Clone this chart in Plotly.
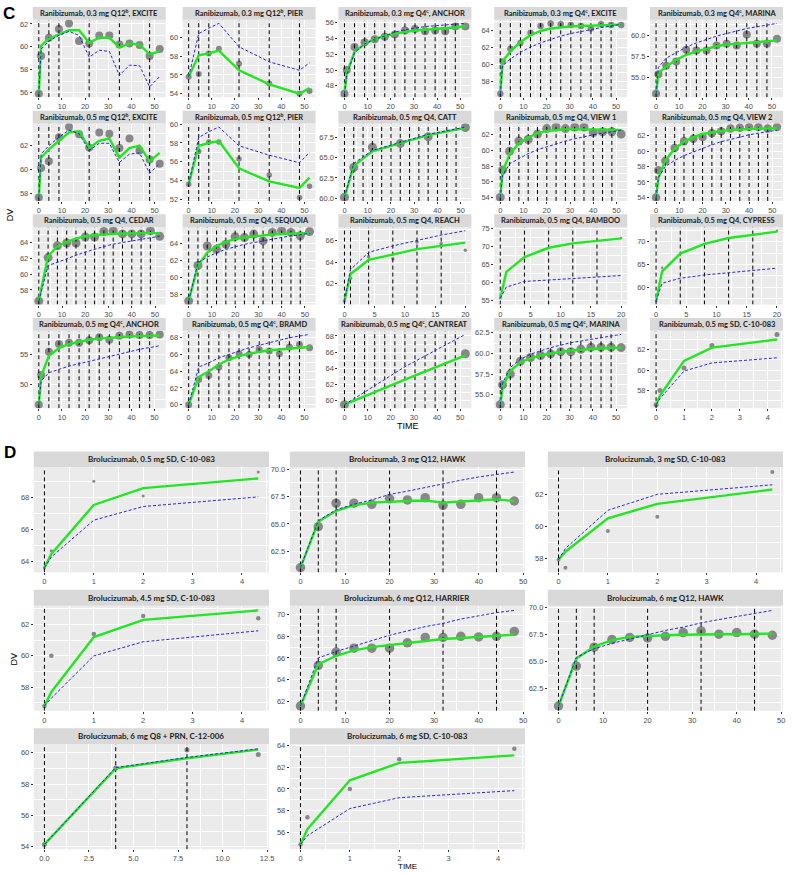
import plotly.graph_objects as go

WIDTH = 793
HEIGHT = 874

# visit times (weeks)
t_month = [0, 1, 4.35, 8.7, 13.05, 17.4, 21.75, 26.1, 30.45, 34.8, 39.15, 43.5, 47.85, 52.2]
t_pier = [0, 4.35, 8.7, 13.05, 21.75, 34.8, 47.85, 52.2]
t_bramd = [0, 4.35, 8.7, 13.05, 17.4, 21.75, 26.1, 30.45, 34.8, 39.15, 43.5, 47.85, 52.2]
t_catt = [0, 4, 12, 24, 36, 52]
t_view = [0, 1, 4, 8, 12, 16, 20, 24, 28, 32, 36, 40, 44, 48, 52]
t_4wk = [0, 4, 8, 12, 16, 20, 24, 28, 32, 36, 40, 44, 48, 52]
t_short = [0, 1, 4, 8, 12, 16, 20]
t_cantreat = [0, 26.1, 52.2]
t_sd = [0, 0.14, 1, 2, 4.33]
t_hawk = [0, 4, 8, 12, 16, 20, 24, 28, 32, 36, 40, 44, 48]
t_prn = [0, 4, 8, 12]

# dosing times (weeks)
dose_q12 = [0, 4.35, 8.7, 21.75, 34.8, 47.85]
dose_monthly = [0, 4.35, 8.7, 13.05, 17.4, 21.75, 26.1, 30.45, 34.8, 39.15, 43.5, 47.85]
dose_4wk = [0, 4, 8, 12, 16, 20, 24, 28, 32, 36, 40, 44, 48]
dose_reach = [0, 1, 4, 8, 12, 16]
dose_short = [0, 4, 8, 12, 16]
dose_sd = [0]
dose_hawk = [0, 4, 8, 20, 32, 44]
dose_prn = [0, 4, 8]

# axis ticks
xt_52 = [0, 10, 20, 30, 40, 50]
xt_20 = [0, 5, 10, 15, 20]
xt_sd = [0, 1, 2, 3, 4]
xt_12 = [0, 2.5, 5, 7.5, 10, 12.5]

# ---- panel C: ranibizumab ----
excite_q12_03_obs = [55.9, 59.2, 60.8, 61.55, 62.05, 60.5, 60.3, 61.0, 61.0, 60.2, 60.3, 60.15, 59.2, 59.8]
excite_q12_03_fit = [55.9, 60.1, 60.7, 61.1, 61.45, 61.45, 60.35, 60.8, 60.8, 59.95, 60.3, 60.2, 59.35, 59.6]
excite_q12_03_pred = [55.9, 59.8, 60.5, 61.0, 61.35, 61.0, 59.1, 59.7, 59.6, 57.5, 58.4, 58.35, 56.5, 57.4]

pier_03_obs = [55.8, 56.1, 58.3, 58.8, 57.2, 55.1, 54.0, 54.3]
pier_03_fit = [55.8, 58.1, 58.3, 58.6, 56.5, 55.0, 54.0, 54.6]
pier_03_pred = [55.8, 60.4, 61.0, 61.5, 59.0, 57.4, 56.5, 57.3]

anchor_03_obs = [47.0, 50.0, 52.9, 53.5, 53.9, 54.2, 54.5, 55.0, 55.2, 54.9, 55.0, 54.9, 55.5, 55.5]
anchor_03_fit = [47.0, 49.6, 52.3, 53.3, 53.9, 54.3, 54.6, 54.8, 55.0, 55.1, 55.2, 55.3, 55.4, 55.5]
anchor_03_pred = [47.0, 49.4, 52.2, 53.3, 53.9, 54.3, 54.8, 55.1, 55.3, 55.5, 55.6, 55.7, 55.8, 55.9]

excite_q4_03_obs = [56.5, 60.3, 61.8, 62.5, 63.7, 64.5, 64.8, 64.7, 64.6, 64.5, 64.2, 64.7, 64.6, 64.6]
excite_q4_03_fit = [56.5, 60.3, 61.5, 62.6, 63.4, 63.9, 64.2, 64.35, 64.45, 64.5, 64.55, 64.6, 64.6, 64.65]
excite_q4_03_pred = [56.5, 59.8, 60.6, 61.4, 62.0, 62.5, 62.9, 63.3, 63.6, 63.85, 64.1, 64.3, 64.5, 64.7]

marina_03_obs = [53.1, 55.4, 56.4, 56.9, 58.3, 58.2, 58.2, 58.8, 59.0, 58.8, 60.1, 59.0, 59.0, 59.6]
marina_03_fit = [53.1, 55.5, 56.3, 57.1, 57.7, 58.1, 58.4, 58.7, 58.9, 59.0, 59.1, 59.2, 59.3, 59.4]
marina_03_pred = [53.1, 56.2, 57.3, 58.0, 58.6, 59.1, 59.5, 59.9, 60.2, 60.5, 60.8, 61.0, 61.2, 61.4]

excite_q12_05_obs = [57.7, 60.15, 60.7, 62.7, 63.55, 62.95, 61.85, 63.1, 63.0, 61.8, 62.6, 61.6, 60.85, 60.5]
excite_q12_05_fit = [57.7, 61.0, 61.7, 62.4, 63.1, 63.2, 61.8, 62.4, 62.6, 61.0, 61.8, 62.0, 60.7, 61.4]
excite_q12_05_pred = [57.7, 61.3, 62.0, 62.7, 63.3, 63.0, 61.6, 62.2, 62.2, 60.6, 61.3, 61.4, 59.7, 60.5]

pier_05_obs = [53.6, 57.1, 58.1, 58.1, 56.3, 54.6, 52.2, 53.4]
pier_05_fit = [53.6, 57.7, 58.0, 58.2, 55.3, 53.9, 53.2, 54.3]
pier_05_pred = [53.6, 58.6, 59.2, 59.7, 57.7, 56.7, 55.9, 57.0]

catt_obs = [60.1, 63.8, 66.3, 66.75, 67.6, 68.75]
catt_fit = [60.1, 64.0, 65.8, 66.8, 67.8, 68.7]
catt_pred = [60.1, 64.3, 65.9, 66.9, 67.9, 68.8]

view1_obs = [54.0, 57.5, 59.9, 61.2, 61.4, 62.1, 62.8, 63.0, 62.8, 63.0, 63.0, 62.3, 62.4, 62.4, 62.1]
view1_fit = [54.0, 57.3, 59.5, 60.9, 61.7, 62.2, 62.5, 62.6, 62.7, 62.7, 62.7, 62.7, 62.7, 62.65, 62.6]
view1_pred = [54.0, 56.8, 58.3, 59.0, 59.6, 60.1, 60.5, 60.9, 61.2, 61.5, 61.8, 62.0, 62.2, 62.4, 62.6]

view2_obs = [54.0, 57.5, 58.75, 60.4, 61.25, 61.6, 61.8, 62.3, 62.55, 62.9, 63.0, 63.1, 63.1, 62.9, 63.1]
view2_fit = [54.0, 56.5, 58.8, 60.3, 61.2, 61.8, 62.2, 62.4, 62.6, 62.7, 62.8, 62.85, 62.9, 62.9, 62.95]
view2_pred = [54.0, 56.6, 58.0, 58.8, 59.4, 59.9, 60.4, 60.8, 61.2, 61.5, 61.8, 62.1, 62.3, 62.5, 62.7]

cedar_obs = [56.6, 62.1, 63.6, 63.95, 63.95, 64.7, 64.7, 65.4, 65.5, 65.1, 65.1, 65.1, 65.5, 64.8]
cedar_fit = [56.6, 62.3, 63.5, 64.1, 64.5, 64.8, 64.95, 65.05, 65.1, 65.15, 65.2, 65.2, 65.2, 65.2]
cedar_pred = [56.6, 61.1, 61.5, 62.0, 62.4, 62.8, 63.2, 63.5, 63.8, 64.0, 64.2, 64.4, 64.6, 64.8]

sequoia_obs = [57.2, 61.4, 63.7, 63.3, 63.9, 64.8, 64.7, 65.1, 64.3, 65.3, 65.5, 65.3, 64.9, 65.4]
sequoia_fit = [57.2, 61.4, 62.9, 63.7, 64.2, 64.5, 64.7, 64.85, 64.95, 65.05, 65.1, 65.15, 65.2, 65.25]
sequoia_pred = [57.2, 61.7, 62.4, 62.9, 63.3, 63.6, 63.9, 64.1, 64.3, 64.5, 64.7, 64.9, 65.0, 65.2]

reach_obs = [60.4, 62.5, 64.5, 64.3, 65.85, 65.7, 65.1]
reach_fit = [60.4, 62.9, 64.2, 64.7, 65.2, 65.5, 65.8]
reach_pred = [60.4, 63.3, 64.9, 65.5, 66.0, 66.5, 66.9]

bamboo_obs = [55.6, None, None, None, None, None, 72.3]
bamboo_fit = [55.6, 62.9, 67.0, 69.6, 70.8, 71.6, 72.2]
bamboo_pred = [55.6, 58.7, 60.25, 60.7, 61.15, 61.6, 61.9]

cypress_obs = [57.0, 64.3, None, None, None, None, 72.4]
cypress_fit = [57.0, 63.5, 67.4, 69.5, 70.8, 71.5, 72.2]
cypress_pred = [57.0, 60.9, 62.0, 62.7, 63.2, 63.7, 64.2]

anchor_05_obs = [46.55, 51.5, 55.4, 56.7, 56.9, 56.9, 57.3, 57.8, 57.4, 58.05, 58.3, 58.2, 58.2, 58.3]
anchor_05_fit = [46.6, 51.3, 54.7, 56.0, 56.7, 57.1, 57.4, 57.6, 57.75, 57.85, 57.95, 58.0, 58.05, 58.1]
anchor_05_pred = [46.6, 50.5, 51.9, 52.5, 53.0, 53.4, 53.8, 54.3, 54.7, 55.1, 55.5, 55.8, 56.1, 56.4]

bramd_obs = [60.0, 63.0, 63.5, 64.5, 65.6, 66.1, 66.0, 66.6, 66.4, 66.1, 66.9, 67.2, 66.8]
bramd_fit = [60.0, 63.3, 64.0, 64.8, 65.4, 65.8, 66.1, 66.3, 66.5, 66.6, 66.7, 66.8, 66.9]
bramd_pred = [60.0, 64.5, 65.0, 65.6, 66.0, 66.4, 66.8, 67.1, 67.4, 67.7, 68.0, 68.2, 68.4]

cantreat_obs = [59.5, None, 65.8]
cantreat_fit = [59.5, 62.6, 65.6]
cantreat_pred = [59.5, 64.2, 68.2]

marina_05_obs = [53.8, 56.2, 57.5, 59.05, 59.5, 59.75, 59.95, 60.2, 60.2, 60.5, 60.75, 60.75, 60.75, 60.7]
marina_05_fit = [53.8, 55.9, 57.9, 58.9, 59.4, 59.75, 60.0, 60.2, 60.35, 60.45, 60.55, 60.6, 60.65, 60.7]
marina_05_pred = [53.8, 56.4, 58.3, 59.3, 59.9, 60.3, 60.7, 61.0, 61.3, 61.5, 61.7, 61.9, 62.1, 62.3]

rani_sd_obs = [56.6, 58.0, 60.2, 62.4, 63.5]
rani_sd_fit = [56.6, 57.5, 60.9, 62.2, 63.0]
rani_sd_pred = [56.6, 57.2, 59.9, 60.7, 61.2]

# ---- panel D: brolucizumab ----
bro05_sd_obs = [63.64, 64.7, 69.03, 68.1, 69.6]
bro05_sd_fit = [63.64, 64.5, 67.55, 68.6, 69.2]
bro05_sd_pred = [63.64, 64.3, 66.6, 67.45, 68.05]

bro3_hawk_obs = [61.0, 64.75, 66.9, 66.9, 66.8, 67.3, 67.2, 67.4, 66.7, 66.8, 67.4, 67.4, 67.1]
bro3_hawk_fit = [61.0, 65.2, 66.2, 66.7, 66.95, 67.05, 67.1, 67.15, 66.95, 67.05, 67.15, 67.25, 67.1]
bro3_hawk_pred = [61.0, 65.3, 66.3, 66.8, 67.2, 67.7, 68.0, 68.35, 68.7, 69.0, 69.3, 69.55, 69.75]

bro3_sd_obs = [57.9, 57.4, 59.7, 60.6, 63.4]
bro3_sd_fit = [57.9, 58.4, 60.5, 61.4, 62.3]
bro3_sd_pred = [57.9, 58.6, 61.0, 62.0, 62.6]

bro45_sd_obs = [56.8, 60.0, 61.4, 62.55, 62.4]
bro45_sd_fit = [56.8, 57.7, 61.2, 62.3, 62.9]
bro45_sd_pred = [56.8, 57.3, 60.0, 60.9, 61.6]

bro6_harrier_obs = [61.55, 65.3, 66.55, 66.9, 66.9, 66.9, 67.4, 67.9, 67.9, 68.0, 67.95, 68.0, 68.45]
bro6_harrier_fit = [61.55, 65.4, 66.2, 66.7, 67.0, 67.2, 67.4, 67.6, 67.75, 67.85, 67.95, 68.05, 68.15]
bro6_harrier_pred = [61.55, 66.0, 66.6, 67.1, 67.6, 68.1, 68.5, 68.9, 69.2, 69.6, 69.9, 70.2, 70.4]

bro6_hawk_obs = [60.9, 64.6, 66.35, 67.05, 67.25, 67.2, 67.35, 67.7, 67.85, 67.55, 67.7, 67.55, 67.45]
bro6_hawk_fit = [60.9, 65.3, 66.4, 67.0, 67.3, 67.4, 67.45, 67.5, 67.55, 67.55, 67.55, 67.6, 67.6]
bro6_hawk_pred = [60.9, 65.4, 66.2, 66.7, 67.1, 67.5, 67.9, 68.2, 68.6, 68.9, 69.2, 69.5, 69.75]

bro6_prn_obs = [54.15, 59.03, 60.18, 59.88]
bro6_prn_fit = [54.15, 59.0, 59.65, 60.2]
bro6_prn_pred = [54.15, 59.05, 59.7, 60.25]

bro6_sd_obs = [54.9, 57.4, 60.0, 62.75, 63.7]
bro6_sd_fit = [54.9, 56.3, 60.8, 62.4, 63.1]
bro6_sd_pred = [54.9, 55.7, 58.2, 59.2, 59.85]

# (title, times, obs, fit, pred, doses, x ticks, y ticks, marker size, y range override)
PANELS_C = [
    ("Ranibizumab, 0.3 mg Q12<sup>b</sup>, EXCITE", t_month, excite_q12_03_obs, excite_q12_03_fit, excite_q12_03_pred, dose_q12, xt_52, [56, 58, 60, 62], 8, None),
    ("Ranibizumab, 0.3 mg Q12<sup>b</sup>, PIER", t_pier, pier_03_obs, pier_03_fit, pier_03_pred, dose_q12, xt_52, [54, 56, 58, 60], 6, None),
    ("Ranibizumab, 0.3 mg Q4<sup>c</sup>, ANCHOR", t_month, anchor_03_obs, anchor_03_fit, anchor_03_pred, dose_monthly, xt_52, [48, 50, 52, 54, 56], 8, None),
    ("Ranibizumab, 0.3 mg Q4<sup>c</sup>, EXCITE", t_month, excite_q4_03_obs, excite_q4_03_fit, excite_q4_03_pred, dose_monthly, xt_52, [58, 60, 62, 64], 6.5, None),
    ("Ranibizumab, 0.3 mg Q4<sup>c</sup>, MARINA", t_month, marina_03_obs, marina_03_fit, marina_03_pred, dose_monthly, xt_52, [55.0, 57.5, 60.0], 8, None),
    ("Ranibizumab, 0.5 mg Q12<sup>b</sup>, EXCITE", t_month, excite_q12_05_obs, excite_q12_05_fit, excite_q12_05_pred, dose_q12, xt_52, [58, 60, 62], 8, None),
    ("Ranibizumab, 0.5 mg Q12<sup>b</sup>, PIER", t_pier, pier_05_obs, pier_05_fit, pier_05_pred, dose_q12, xt_52, [52, 54, 56, 58, 60], 5.5, None),
    ("Ranibizumab, 0.5 mg Q4, CATT", t_catt, catt_obs, catt_fit, catt_pred, dose_4wk, xt_52, [60.0, 62.5, 65.0, 67.5], 9, None),
    ("Ranibizumab, 0.5 mg Q4, VIEW 1", t_view, view1_obs, view1_fit, view1_pred, dose_4wk, xt_52, [54, 56, 58, 60, 62], 9, None),
    ("Ranibizumab, 0.5 mg Q4, VIEW 2", t_view, view2_obs, view2_fit, view2_pred, dose_4wk, xt_52, [54, 56, 58, 60, 62], 8.5, None),
    ("Ranibizumab, 0.5 mg Q4, CEDAR", t_4wk, cedar_obs, cedar_fit, cedar_pred, dose_4wk, xt_52, [56, 58, 60, 62, 64, 66], 9, None),
    ("Ranibizumab, 0.5 mg Q4, SEQUOIA", t_4wk, sequoia_obs, sequoia_fit, sequoia_pred, dose_4wk, xt_52, [58, 60, 62, 64, 66], 9, None),
    ("Ranibizumab, 0.5 mg Q4, REACH", t_short, reach_obs, reach_fit, reach_pred, dose_reach, xt_20, [62, 64, 66], 3.5, None),
    ("Ranibizumab, 0.5 mg Q4, BAMBOO", t_short, bamboo_obs, bamboo_fit, bamboo_pred, dose_short, xt_20, [55, 60, 65, 70, 75], 2.5, [53.85, 75.3]),
    ("Ranibizumab, 0.5 mg Q4, CYPRESS", t_short, cypress_obs, cypress_fit, cypress_pred, dose_short, xt_20, [60, 65, 70], 2.5, None),
    ("Ranibizumab, 0.5 mg Q4<sup>c</sup>, ANCHOR", t_month, anchor_05_obs, anchor_05_fit, anchor_05_pred, dose_monthly, xt_52, [50, 55], 8, None),
    ("Ranibizumab, 0.5 mg Q4<sup>c</sup>, BRAMD", t_bramd, bramd_obs, bramd_fit, bramd_pred, dose_monthly, xt_52, [60, 62, 64, 66, 68], 7, None),
    ("Ranibizumab, 0.5 mg Q4<sup>c</sup>, CANTREAT", t_cantreat, cantreat_obs, cantreat_fit, cantreat_pred, dose_monthly, xt_52, [60, 62, 64, 66, 68], 9, None),
    ("Ranibizumab, 0.5 mg Q4<sup>c</sup>, MARINA", t_month, marina_05_obs, marina_05_fit, marina_05_pred, dose_monthly, xt_52, [55.0, 57.5, 60.0, 62.5], 9, None),
    ("Ranibizumab, 0.5 mg SD, C-10-083", t_sd, rani_sd_obs, rani_sd_fit, rani_sd_pred, dose_sd, xt_sd, [58, 60, 62], 5, None),
]

PANELS_D = [
    ("Brolucizumab, 0.5 mg SD, C-10-083", t_sd, bro05_sd_obs, bro05_sd_fit, bro05_sd_pred, dose_sd, xt_sd, [64, 66, 68], 3, None),
    ("Brolucizumab, 3 mg Q12, HAWK", t_hawk, bro3_hawk_obs, bro3_hawk_fit, bro3_hawk_pred, dose_hawk, xt_52, [62.5, 65.0, 67.5, 70.0], 9.5, None),
    ("Brolucizumab, 3 mg SD, C-10-083", t_sd, bro3_sd_obs, bro3_sd_fit, bro3_sd_pred, dose_sd, xt_sd, [58, 60, 62], 4, None),
    ("Brolucizumab, 4.5 mg SD, C-10-083", t_sd, bro45_sd_obs, bro45_sd_fit, bro45_sd_pred, dose_sd, xt_sd, [58, 60, 62], 4.5, None),
    ("Brolucizumab, 6 mg Q12, HARRIER", t_hawk, bro6_harrier_obs, bro6_harrier_fit, bro6_harrier_pred, dose_hawk, xt_52, [62, 64, 66, 68, 70], 9.5, None),
    ("Brolucizumab, 6 mg Q12, HAWK", t_hawk, bro6_hawk_obs, bro6_hawk_fit, bro6_hawk_pred, dose_hawk, xt_52, [62.5, 65.0, 67.5, 70.0], 9.5, None),
    ("Brolucizumab, 6 mg Q8 + PRN, C-12-006", t_prn, bro6_prn_obs, bro6_prn_fit, bro6_prn_pred, dose_prn, xt_12, [54, 56, 58, 60], 5, None),
    ("Brolucizumab, 6 mg SD, C-10-083", t_sd, bro6_sd_obs, bro6_sd_fit, bro6_sd_pred, dose_sd, xt_sd, [56, 58, 60, 62, 64], 4.5, None),
]

# panel grid in pixels
C_LEFT = [33, 184, 341, 498, 655]
C_TOP = [16, 120.5, 225, 329.5]
C_W, C_H, C_STRIP = 134, 78, 13
D_LEFT = [34, 292, 552]
D_TOP = [467, 606.5, 746]
D_W, D_H, D_STRIP = 237, 106, 16

TICK_FONT = dict(family="Liberation Sans, Arial, sans-serif", size=7.5, color="#4D4D4D")
STRIP_FONT = "Lato, Open Sans, sans-serif"
FIT_GREEN = "#22E622"
PRED_BLUE = "#2626D9"


def pad_range(values, frac=0.05):
    lo, hi = min(values), max(values)
    pad = (hi - lo) * frac
    return [lo - pad, hi + pad]


def tick_text(vals):
    fractional = any(abs(v - round(v)) > 1e-9 for v in vals)
    return [f"{v:.1f}" if fractional else f"{v:g}" for v in vals]


def minor_vals(vals, rng):
    step = vals[1] - vals[0]
    cand = [v - step / 2 for v in vals] + [vals[-1] + step / 2]
    return [v for v in cand if rng[0] <= v <= rng[1]]


def axis_style(ticks, rng, domain, anchor):
    return dict(
        domain=domain,
        anchor=anchor,
        range=rng,
        tickmode="array",
        tickvals=ticks,
        ticktext=tick_text(ticks),
        tickfont=TICK_FONT,
        ticks="outside",
        ticklen=2,
        tickwidth=0.8,
        tickcolor="#333333",
        showgrid=True,
        gridcolor="white",
        gridwidth=1,
        minor=dict(tickmode="array", tickvals=minor_vals(ticks, rng), showgrid=True,
                   gridcolor="white", gridwidth=0.5, ticks=""),
        zeroline=False,
        showline=False,
        fixedrange=True,
    )


def add_panel(fig, layout, shapes, annotations, idx, panel, box, strip_h, strip_size):
    title, t, obs, fit, pred, doses, xticks, yticks, msize, yoverride = panel
    left, top, w, h = box
    xs = "" if idx == 1 else str(idx)

    xr = pad_range(list(t) + list(doses))
    yvals = [v for v in obs if v is not None] + list(fit) + list(pred)
    yr = yoverride if yoverride else pad_range(yvals)

    xdom = [left / WIDTH, (left + w) / WIDTH]
    ydom = [1 - (top + h) / HEIGHT, 1 - top / HEIGHT]
    layout["xaxis" + xs] = axis_style(xticks, xr, xdom, "y" + xs)
    layout["yaxis" + xs] = axis_style(yticks, yr, ydom, "x" + xs)

    # observed means
    fig.add_trace(go.Scatter(
        x=t, y=obs, mode="markers", xaxis="x" + xs, yaxis="y" + xs,
        marker=dict(size=msize, color="rgba(118,118,118,0.85)", line=dict(width=0)),
        hoverinfo="skip", showlegend=False,
    ))

    # dosing times
    vx, vy = [], []
    for d in doses:
        vx += [d, d, None]
        vy += [yr[0], yr[1], None]
    fig.add_trace(go.Scatter(
        x=vx, y=vy, mode="lines", xaxis="x" + xs, yaxis="y" + xs,
        line=dict(color="black", width=1, dash="4px,3px"),
        hoverinfo="skip", showlegend=False,
    ))

    fig.add_trace(go.Scatter(
        x=t, y=fit, mode="lines", xaxis="x" + xs, yaxis="y" + xs,
        line=dict(color=FIT_GREEN, width=2.4), hoverinfo="skip", showlegend=False,
    ))
    fig.add_trace(go.Scatter(
        x=t, y=pred, mode="lines", xaxis="x" + xs, yaxis="y" + xs,
        line=dict(color=PRED_BLUE, width=1, dash="3px,2px"), hoverinfo="skip", showlegend=False,
    ))

    # facet strip
    shapes.append(dict(
        type="rect", xref="paper", yref="paper", layer="below",
        x0=left / WIDTH, x1=(left + w) / WIDTH,
        y0=1 - top / HEIGHT, y1=1 - (top - strip_h) / HEIGHT,
        fillcolor="#D9D9D9", line=dict(width=0),
    ))
    annotations.append(dict(
        text="<b>" + title + "</b>", xref="paper", yref="paper",
        x=(left + w / 2) / WIDTH, y=1 - (top - strip_h / 2) / HEIGHT,
        xanchor="center", yanchor="middle", showarrow=False,
        font=dict(family=STRIP_FONT, size=strip_size, color="#1A1A1A"),
    ))


def text_note(text, px, py, size, bold=False, angle=0, anchor="center"):
    return dict(
        text=f"<b>{text}</b>" if bold else text, xref="paper", yref="paper",
        x=px / WIDTH, y=1 - py / HEIGHT, xanchor=anchor, yanchor="middle",
        showarrow=False, textangle=angle,
        font=dict(family="Liberation Sans, Arial, sans-serif", size=size, color="black"),
    )


def main():
    fig = go.Figure()
    layout, shapes, annotations = {}, [], []

    idx = 1
    for k, panel in enumerate(PANELS_C):
        r, c = divmod(k, 5)
        add_panel(fig, layout, shapes, annotations, idx, panel,
                  (C_LEFT[c], C_TOP[r], C_W, C_H), C_STRIP, 7.5)
        idx += 1
    for k, panel in enumerate(PANELS_D):
        r, c = divmod(k, 3)
        add_panel(fig, layout, shapes, annotations, idx, panel,
                  (D_LEFT[c], D_TOP[r], D_W, D_H), D_STRIP, 8)
        idx += 1

    annotations += [
        text_note("C", 1, 10, 17, bold=True, anchor="left"),
        text_note("D", 2, 452, 17, bold=True, anchor="left"),
        text_note("DV", 10, 212, 9, angle=-90),
        text_note("TIME", 411, 425, 9),
        text_note("DV", 14, 660, 9, angle=-90),
        text_note("TIME", 411, 869.5, 8),
    ]

    fig.update_layout(
        width=WIDTH, height=HEIGHT, autosize=False,
        margin=dict(l=0, r=0, t=0, b=0),
        paper_bgcolor="white", plot_bgcolor="#EBEBEB",
        showlegend=False, hovermode=False,
        shapes=shapes, annotations=annotations,
        **layout,
    )
    # the page body has a default 8px margin; drop it so the figure fills the window
    fig.write_html("out.html", config={"displayModeBar": False},
                   post_script="document.body.style.margin = '0';")


if __name__ == "__main__":
    main()
